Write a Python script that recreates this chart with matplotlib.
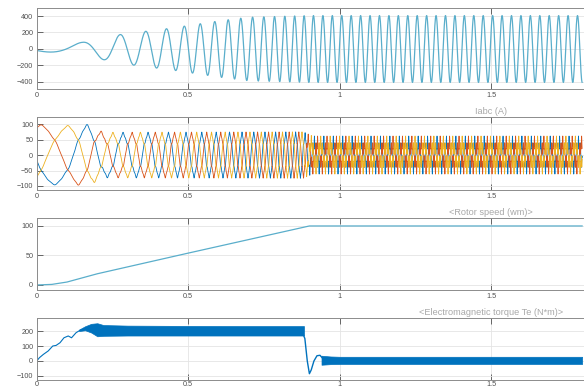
import numpy as np
import matplotlib
matplotlib.use('Agg')
import matplotlib.pyplot as plt

plt.rcParams['font.family'] = ['Liberation Sans', 'DejaVu Sans']

# rotor speed (rad/s)
speed_t = [0, 0.05, 0.10, 0.15, 0.20, 0.50, 0.90, 1.80]
speed_w = [0, 1, 5, 12, 19, 54, 100, 100]

# slip frequency (Hz) added to the electrical frequency
slip_t = [0, 0.10, 0.20, 0.88, 0.92, 1.80]
slip_hz = [4.0, 2.5, 1.4, 1.3, 0.3, 0.3]

# envelope of the top signal
amp1_t = [0, 0.08, 0.149, 0.219, 0.282, 0.331, 0.371, 0.407, 0.443, 0.50, 0.60, 0.70, 0.90, 1.80]
amp1 = [25, 50, 80, 128, 180, 200, 220, 236, 252, 284, 340, 385, 405, 405]

# envelope of the phase currents and of their ripple
amp2_t = [0, 0.10, 0.17, 0.22, 0.88, 0.91, 1.80]
amp2 = [95, 90, 92, 66, 66, 33, 33]
harm_t = [0, 0.20, 0.88, 0.91, 1.80]
harm_a = [2, 5, 6, 19, 19]

# electromagnetic torque
te_rise_t = [0, 0.009, 0.022, 0.038, 0.053, 0.064, 0.077, 0.09, 0.104, 0.115, 0.13, 0.143, 0.159, 0.175]
te_rise_v = [0, 22, 44, 67, 100, 104, 122, 155, 167, 155, 189, 205, 215, 222]
band1_t = [0.14, 0.16, 0.18, 0.20, 0.22, 0.30, 0.50, 0.70, 0.882]
band1_hi = [210, 232, 248, 252, 240, 236, 234, 233, 233]
band1_lo = [200, 205, 190, 165, 168, 170, 170, 170, 170]
te_drop_t = [0.875, 0.885, 0.893, 0.90, 0.906, 0.915, 0.925, 0.935, 0.945, 0.955]
te_drop_v = [200, 150, 0, -85, -60, 0, 35, 38, 15, 0]
band2_t = [0.94, 0.97, 1.0, 1.8]
band2_hi = [35, 30, 28, 28]
band2_lo = [-25, -21, -20, -20]

xtick_vals = [0, 0.5, 1, 1.5]
xtick_labels = ['0', '0.5', '1', '1.5']

light = '#5aaecb'
blue = '#0072BD'
orange = '#D95319'
yellow = '#EDB120'

# build the waveforms from the speed profile (2 pole pairs)
t = np.linspace(0, 1.8, 40001)
dt = t[1] - t[0]
w = np.interp(t, speed_t, speed_w)
slip = np.interp(t, slip_t, slip_hz)
theta = np.cumsum(2 * w + 2 * np.pi * slip) * dt

i1 = np.argmin(abs(t - 0.149))
sig1 = np.interp(t, amp1_t, amp1) * np.cos(theta - theta[i1])

ib = np.argmin(abs(t - 0.166))
a2 = np.interp(t, amp2_t, amp2)
h2 = np.interp(t, harm_t, harm_a)

W, H = 584, 389
def make_axes(top, bottom):
    ax = fig.add_axes([36.7 / W, 1 - bottom / H, 909 / W, (bottom - top) / H])
    ax.set_xlim(0, 3)
    ax.set_xticks(xtick_vals)
    ax.set_xticklabels(xtick_labels)
    ax.grid(True, color='#e4e4e4', lw=0.6)
    ax.set_axisbelow(True)
    ax.tick_params(direction='in', length=4.5, width=0.6, colors='#505050',
                   labelsize=5.2, top=True, pad=2.5)
    for s in ax.spines.values():
        s.set_color('#8c8c8c')
        s.set_linewidth(0.7)
    return ax

fig = plt.figure(figsize=(5.84, 3.89), dpi=100)

ax1 = make_axes(8, 89)
ax1.plot(t, sig1, color=light, lw=0.9)
ax1.set_ylim(-485, 497)
ax1.set_yticks([-400, -200, 0, 200, 400])

ax2 = make_axes(117, 190)
# phase a (blue), b (orange), c (yellow)
for c, shift in [(blue, 0), (orange, 4 * np.pi / 3), (yellow, 2 * np.pi / 3)]:
    ph = theta - theta[ib] + shift
    cur = a2 * np.cos(ph) + h2 * np.cos(5 * ph) + 0.5 * h2 * np.cos(11 * ph)
    ax2.plot(t, cur, color=c, lw=0.6)
ax2.set_ylim(-113, 123)
ax2.set_yticks([-100, -50, 0, 50, 100])
ax2.set_title('Iabc (A)', fontsize=6.6, color='#a8a8a8', pad=2)

ax3 = make_axes(218, 290)
ax3.plot(speed_t, speed_w, color=light, lw=0.9)
ax3.set_ylim(-8.5, 113.5)
ax3.set_yticks([0, 50, 100])
ax3.set_title('<Rotor speed (wm)>', fontsize=6.6, color='#a8a8a8', pad=2)

ax4 = make_axes(318, 380)
ax4.plot(te_rise_t, te_rise_v, color=blue, lw=0.8)
ax4.fill_between(band1_t, band1_lo, band1_hi, color=blue, lw=0.5)
ax4.plot(te_drop_t, te_drop_v, color=blue, lw=1.0)
ax4.fill_between(band2_t, band2_lo, band2_hi, color=blue, lw=0.5)
ax4.set_ylim(-127, 287)
ax4.set_yticks([-100, 0, 100, 200])
ax4.tick_params(axis='x', pad=1)
ax4.set_title('<Electromagnetic torque Te (N*m)>', fontsize=6.6, color='#a8a8a8', pad=2)

fig.savefig('out.png', dpi=100)
